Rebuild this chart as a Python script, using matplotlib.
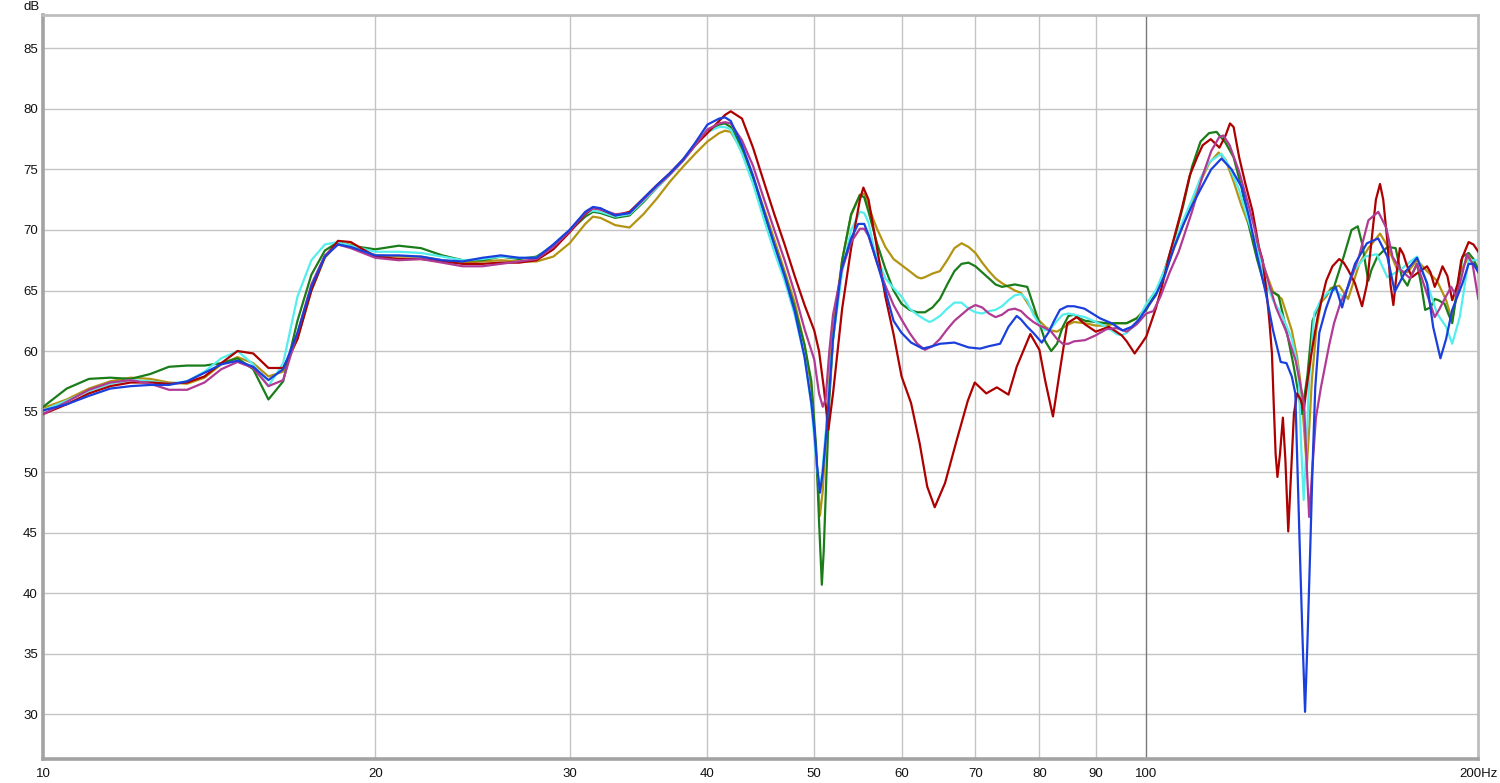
# Frequency response overlay, 6 measurements, 10-200 Hz (log axis)
import matplotlib
matplotlib.use("Agg")
import matplotlib.pyplot as plt

plt.rcParams['font.family'] = ['Liberation Sans', 'DejaVu Sans']

# ==== Data (Hz, dB) ====
# shared low-frequency grid, 10 .. 49 Hz
F_LOW = [10, 10.5, 11, 11.5, 12, 12.5, 13, 13.5, 14, 14.5, 15, 15.5, 16, 16.5, 17, 17.5, 18, 18.5, 19,
         20,
         21, 22, 23, 24, 25, 26, 27, 28, 29, 30, 31,
         31.5,
         32, 33, 34, 35, 36, 37, 38, 39, 40, 41,
         41.5,
         42, 43, 44, 45, 46, 47, 48, 49]

green_low = [55.4, 56.9, 57.7, 57.8, 57.7, 58.1, 58.7, 58.8, 58.8, 59.0, 59.4, 58.5, 56.0, 57.5, 62.5, 66.3, 68.3, 69.0, 68.7,
             68.4,
             68.7, 68.5, 67.9, 67.5, 67.5, 67.8, 67.6, 67.8, 68.7, 69.9, 71.1,
             71.5,
             71.4, 71.0, 71.2, 72.3, 73.5, 74.6, 75.7, 77.0, 78.2, 78.7,
             78.8,
             78.5, 76.8, 74.3, 71.4, 68.8, 66.3, 63.6, 60.5]
green_f = [49.7, 50.2, 50.5, 50.8, 51.0, 51.3, 51.6, 52, 53, 54, 55, 55.5,
           56, 57, 58, 59, 60, 61, 62, 63, 64, 65, 66, 67, 68, 69, 70, 71, 72, 73, 74, 75, 76, 77, 78, 79, 80,
           81, 82, 83, 84, 85, 86, 87, 88, 90, 92, 94, 96, 98, 100,
           102, 104, 106, 108, 110, 112, 114, 115.8, 118, 120, 122, 124, 126, 128, 130, 131.8, 134, 136,
           138.4, 140, 141.5, 144, 148, 151, 153.5, 155.5, 157, 158.2, 159, 160, 162, 165.5, 168.3, 170.5,
           172.5, 174, 176, 177.5, 179, 181, 182.6, 184, 186.4, 188, 189.4, 191, 193.5, 196, 198, 200]
green_db = [57.5, 52.0, 46.0, 40.7, 43.5, 50.0, 56.0, 61.0, 67.5, 71.3, 72.9, 72.7,
            71.5, 68.9, 66.8, 65.0, 63.9, 63.4, 63.2, 63.2, 63.6, 64.3, 65.5, 66.6, 67.2, 67.3, 67.0, 66.5, 66.0, 65.5, 65.3, 65.4, 65.5, 65.4, 65.3, 63.8, 62.3,
            60.8, 60.0, 60.6, 62.0, 62.9, 63.0, 62.7, 62.5, 62.4, 62.3, 62.3, 62.3, 62.7, 63.4,
            64.8, 66.8, 69.2, 72.0, 75.2, 77.3, 78.0, 78.1, 77.2, 76.0, 73.5, 70.2, 67.6, 65.4, 64.9, 64.6, 61.7, 58.8,
            54.8, 58.0, 62.5, 64.2, 65.3, 67.8, 70.0, 70.3, 68.8, 66.9, 65.8, 66.7, 67.8, 68.6, 68.5, 66.1,
            65.4, 66.3, 67.2, 65.5, 63.4, 63.6, 64.3, 64.2, 63.9, 63.0, 62.3, 64.5, 67.8, 68.1, 67.6, 66.7]

red_low = [54.8, 55.6, 56.5, 57.1, 57.4, 57.4, 57.3, 57.4, 57.9, 59.0, 60.0, 59.8, 58.6, 58.6, 61.0, 65.0, 67.8, 69.1, 69.0,
           67.8,
           67.6, 67.6, 67.4, 67.2, 67.2, 67.3, 67.3, 67.5, 68.4, 69.8, 71.3,
           71.8,
           71.7, 71.2, 71.5, 72.6, 73.7, 74.7, 75.8, 77.0, 78.0, 79.0,
           79.5,
           79.8, 79.2, 76.8, 74.0, 71.3, 68.8, 66.2, 63.8]
red_f = [50, 50.5, 51, 51.5, 52, 52.5, 53, 54, 55, 55.4, 56, 57, 58, 59, 60, 61.2, 62.3, 63.3, 64.3, 65.7,
         67.3, 68.9, 69.9, 71.6, 73.2, 75.0, 76.3, 78.5, 80, 81, 82.3, 83.6, 84.8, 86.5, 88, 90, 92.5, 95,
         96, 97.6, 99, 100, 102, 103.3, 105, 107.6, 109.5, 111.2, 112.5, 114.4, 116.5, 118, 119.1, 120,
         121.4, 123, 124.8, 126.5, 127.5, 128.5, 129.3, 130, 130.5, 131, 131.5, 132.2, 133, 133.7, 134.5,
         135.3, 136.1, 137, 138, 138.9, 140, 141, 142, 143, 144, 145.6, 147.5, 149.6, 151, 152.4, 154.6,
         156.9, 158.5, 160, 161.5, 162.9, 164, 165.4, 166.5, 167.5, 168.7, 169.8, 171, 172.1, 174.1,
         176.5, 179.7, 181, 182.6, 184, 185.6, 187.5, 189.4, 191.5, 193, 196, 198, 200]
red_db = [61.7, 60.0, 57.0, 53.5, 56.5, 60.0, 63.5, 68.5, 72.5, 73.5, 72.5, 68.5, 64.5, 61.4, 57.9, 55.7, 52.4, 48.8, 47.1, 49.1,
          52.6, 55.9, 57.4, 56.5, 57.0, 56.4, 58.7, 61.4, 60.1, 57.5, 54.6, 58.7, 62.3, 62.8, 62.2, 61.6, 62.0, 61.3,
          60.8, 59.8, 60.6, 61.2, 63.5, 65.3, 68.0, 71.6, 74.5, 76.0, 77.0, 77.5, 76.8, 77.8, 78.8, 78.5,
          76.0, 73.8, 71.6, 68.6, 67.5, 65.0, 62.5, 59.8, 55.5, 51.5, 49.6, 51.5, 54.5, 51.0, 45.1,
          50.0, 54.8, 56.5, 56.0, 55.1, 57.5, 59.5, 61.2, 62.8, 64.0, 65.8, 67.0, 67.6, 67.3, 66.7, 65.6,
          63.7, 65.5, 69.0, 72.5, 73.8, 72.5, 69.1, 65.5, 63.8, 66.5, 68.5, 68.0, 67.2, 66.1,
          66.5, 67.0, 66.5, 65.3, 66.0, 67.0, 66.2, 64.2, 65.5, 67.5, 69.0, 68.8, 68.2]

magenta_low = [54.8, 55.8, 56.8, 57.4, 57.6, 57.3, 56.8, 56.8, 57.4, 58.5, 59.1, 58.6, 57.1, 57.6, 61.5, 65.5, 67.9, 68.8, 68.5,
               67.7,
               67.5, 67.6, 67.3, 67.0, 67.0, 67.2, 67.4, 67.6, 68.6, 69.9, 71.4,
               71.8,
               71.7, 71.3, 71.4, 72.5, 73.6, 74.6, 75.7, 77.0, 78.3, 78.8,
               78.9,
               78.8, 77.4, 75.3, 72.6, 70.0, 67.5, 64.8, 61.8]
magenta_f = [50, 50.5, 50.9, 51.2, 51.6, 52, 53, 54, 55, 55.5, 56, 57, 58, 59, 60, 61, 62, 63, 64, 65, 66,
             67, 68, 69, 70, 71, 72, 73, 74, 75, 76, 77, 78, 79, 80, 81, 82, 83, 84, 85, 86, 88, 90, 92, 94,
             96, 98, 100, 101.5, 103, 105, 107, 110, 112.4, 114.5, 116.5, 117.5, 119, 121.4, 124, 125.3,
             126.5, 128.4, 131.1, 133.8, 136.6, 139, 139.8, 140.5, 141.5, 142.5, 144, 145, 146.5, 148, 150,
             152.4, 155.9, 159, 162.3, 165, 167.2, 170, 173.5, 176, 179.7, 182.6, 184.5, 186.9, 189, 191,
             193, 195.3, 197.6, 200]
magenta_db = [59.3, 56.5, 55.4, 56.0, 60.0, 63.0, 66.8, 69.0, 70.1, 70.1, 69.5, 67.3, 65.4, 63.8, 62.6, 61.5, 60.6, 60.1, 60.4, 61.0, 61.8,
              62.5, 63.0, 63.5, 63.8, 63.6, 63.1, 62.8, 63.0, 63.4, 63.5, 63.3, 62.8, 62.4, 62.1, 61.9, 61.6, 61.0, 60.6, 60.6, 60.8, 60.9, 61.3, 61.8, 61.9,
              61.6, 62.2, 63.1, 63.3, 64.5, 66.5, 68.2, 71.5, 74.4, 76.5, 77.7, 77.8, 77.0, 74.8, 71.8, 70.2,
              68.5, 66.4, 63.6, 61.7, 59.2, 55.7, 50.5, 46.3, 50.5, 54.5, 57.0, 58.4, 60.5, 62.3, 64.0,
              65.3, 67.8, 70.8, 71.5, 70.2, 67.8, 66.7, 66.0, 67.2, 64.7, 62.8, 63.5, 64.5, 65.3, 64.5,
              66.0, 68.0, 67.2, 64.3]

cyan_low = [55.1, 55.9, 56.7, 57.3, 57.6, 57.5, 57.3, 57.5, 58.3, 59.4, 60.0, 58.9, 57.1, 59.0, 64.5, 67.5, 68.8, 69.0, 68.7,
            68.2,
            68.2, 68.1, 67.8, 67.5, 67.6, 67.8, 67.7, 67.7, 68.8, 70.0, 71.3,
            71.6,
            71.5, 71.1, 71.3, 72.4, 73.5, 74.6, 75.7, 77.0, 78.1, 78.5,
            78.5,
            78.3, 76.3, 73.8, 70.9, 68.2, 65.8, 63.0, 59.5]
cyan_f = [49.7, 50.2, 50.6, 50.9, 51.3, 52, 53, 54, 55, 55.5, 56, 56.6, 57, 58, 59, 60, 61, 62, 63, 63.6, 64,
          65, 66, 67, 68, 69, 70, 71, 72, 73, 74, 75, 76, 77, 78, 79, 80, 81, 82, 83, 84, 85, 86, 88, 90,
          92, 94, 95, 96, 98, 100, 102, 104, 106, 108, 110, 112, 114, 117, 119, 121.4, 124, 126, 128,
          130.3, 132.7, 135.5, 137, 137.5, 138.2, 138.9, 139.7, 140.5, 142, 144, 146, 148, 151, 154.5,
          158, 161.8, 165.4, 170, 173, 176, 179.7, 183.5, 187, 189.4, 192.4, 196, 200]
cyan_db = [55.5, 51.0, 48.5, 50.5, 54.0, 61.0, 66.5, 70.0, 71.5, 71.4, 70.6, 68.6, 67.8, 66.0, 65.2, 64.5, 63.5, 63.0, 62.6, 62.4, 62.5,
           62.9, 63.5, 64.0, 64.0, 63.5, 63.2, 63.1, 63.3, 63.4, 63.7, 64.2, 64.6, 64.7, 64.2, 63.0, 62.2, 61.7, 61.9, 62.5, 63.0, 63.1, 63.0, 62.8, 62.4,
           62.0, 61.4, 61.3, 61.5, 62.3, 63.9, 65.0, 66.8, 68.8, 70.8, 72.5, 74.3, 75.6, 76.3, 75.2, 73.3, 70.5, 68.5, 66.0,
           64.2, 63.0, 61.0, 59.0, 57.6, 52.0, 47.7, 52.0, 57.6, 63.1, 64.2, 64.8, 65.1, 64.4, 66.7,
           67.8, 68.0, 66.1, 66.7, 67.3, 67.8, 65.6, 63.1, 62.0, 60.6, 62.8, 67.5, 67.5]

olive_low = [55.3, 56.0, 56.9, 57.5, 57.8, 57.7, 57.4, 57.3, 57.8, 58.9, 59.5, 59.0, 57.9, 58.3, 61.0, 65.0, 67.7, 68.9, 68.8,
             67.9,
             67.8, 67.8, 67.5, 67.3, 67.4, 67.5, 67.4, 67.4, 67.8, 68.9, 70.5,
             71.1,
             71.0, 70.4, 70.2, 71.3, 72.6, 74.0, 75.2, 76.3, 77.3, 78.0,
             78.2,
             78.1, 76.6, 74.4, 71.8, 69.2, 66.6, 64.0, 60.5]
olive_f = [49.7, 50.2, 50.6, 50.9, 51.3, 51.7, 52, 53, 54, 55, 55.5, 56, 56.6, 57, 58, 59, 60, 61, 62, 62.5,
           63, 64, 65, 66, 67, 68, 69, 70, 71, 72, 73, 74, 75, 76, 77, 78, 79, 80, 81, 82, 83, 84, 85, 86,
           88, 90, 92, 94, 96, 98, 100, 102, 104, 106, 108, 110, 112, 114, 116.3, 118, 120, 122, 124,
           126.1, 128, 130.3, 132.7, 135.5, 137, 137.9, 138.9, 139.8, 140.6, 141.3, 142.6, 144, 145.6,
           147, 149.6, 152.4, 156, 159, 162.9, 165.4, 168.9, 172.5, 176, 179.7, 183.5, 187, 189.4, 192.4,
           196, 200]
olive_db = [57.0, 51.5, 46.4, 48.5, 54.0, 59.0, 62.0, 67.5, 71.2, 72.9, 73.0, 72.0, 70.8, 70.1, 68.6, 67.6, 67.1, 66.6, 66.1, 66.0,
            66.1, 66.4, 66.6, 67.5, 68.5, 68.9, 68.6, 68.1, 67.3, 66.6, 66.0, 65.6, 65.3, 65.0, 64.8, 64.0, 63.2, 62.5, 62.0, 61.7, 61.6, 61.9, 62.2, 62.4,
            62.3, 62.1, 62.1, 62.3, 62.3, 62.7, 63.6, 64.7, 66.5, 68.5, 70.4, 72.3, 74.0, 75.5, 76.4, 75.8, 74.0, 72.0, 70.3,
            68.8, 66.8, 64.9, 64.3, 61.7, 59.5, 57.6, 54.0, 50.4, 54.0, 57.6, 61.7, 64.0, 64.5,
            65.2, 65.4, 64.3, 67.2, 68.5, 69.7, 68.7, 66.7, 66.5, 67.5, 66.6, 65.8, 64.2, 62.5, 66.4,
            67.8, 66.7]

blue_low = [55.1, 55.6, 56.3, 56.9, 57.1, 57.2, 57.2, 57.5, 58.2, 58.9, 59.2, 58.7, 57.6, 58.5, 61.5, 65.3, 67.8, 68.8, 68.6,
            67.9,
            67.9, 67.8, 67.5, 67.4, 67.7, 67.9, 67.7, 67.7, 68.8, 70.0, 71.5,
            71.9,
            71.8, 71.2, 71.4, 72.6, 73.7, 74.7, 75.8, 77.2, 78.7, 79.2,
            79.3,
            79.0, 77.0, 74.5, 71.6, 68.8, 66.2, 63.3, 59.5]
blue_f = [49.7, 50.0, 50.3, 50.6, 50.9, 51.3, 52, 52.9, 54, 54.8, 55.5, 56, 57, 58, 59, 60, 61.2, 62.7, 64, 65,
          67, 68, 69, 70.7, 72, 73.7, 75, 76.3, 77, 78, 79, 80.4, 81.5, 82.5, 83.5, 84.8, 86, 87.9, 90.8, 93,
          95.2, 97, 98.5, 100, 102, 104, 106, 108, 110, 112.2, 114.5, 117, 119.5, 122.1, 124, 126.1, 128.4,
          130.3, 132.4, 134, 135.5, 136.5, 137.2, 137.9, 138.6, 139.3, 140.0, 140.8, 141.5, 142.3, 143.5,
          145.5, 147.5, 148.5, 150.5, 152.5, 154.6, 158.5, 162.3, 165.4, 168, 171.6, 176, 179.7, 182,
          184.8, 187, 189.4, 193.5, 196, 198, 200]
blue_db = [55.7, 53.5, 50.5, 48.3, 50.0, 53.5, 61.0, 66.7, 69.3, 70.5, 70.5, 69.6, 67.3, 65.0, 62.5, 61.5, 60.7, 60.2, 60.4, 60.6,
           60.7, 60.5, 60.3, 60.2, 60.4, 60.6, 62.0, 62.9, 62.6, 62.0, 61.5, 60.7, 61.5, 62.5, 63.4, 63.7, 63.7, 63.5, 62.7, 62.3,
           61.7, 62.0, 62.6, 63.5, 64.6, 66.3, 68.6, 70.4, 72.0, 73.5, 75.0, 75.9, 75.0, 73.5, 71.0, 67.8, 64.7,
           61.7, 59.1, 59.0, 57.9, 56.5, 49.5, 42.5, 36.0, 30.2, 36.0, 43.5, 50.5, 57.0, 61.5,
           63.5, 65.0, 65.3, 63.6, 65.5, 67.2, 68.9, 69.3, 67.8, 64.9, 66.5, 67.7, 65.6, 62.0,
           59.4, 61.0, 63.4, 65.6, 67.2, 67.2, 66.5]

# drawing order: first = bottom
SERIES = [
    ("olive", olive_low, olive_f, olive_db, "#b39412"),
    ("green", green_low, green_f, green_db, "#1a7d1a"),
    ("cyan", cyan_low, cyan_f, cyan_db, "#55eeee"),
    ("red", red_low, red_f, red_db, "#ad0000"),
    ("magenta", magenta_low, magenta_f, magenta_db, "#b03a94"),
    ("blue", blue_low, blue_f, blue_db, "#1a3fdc"),
]

X_TICKS = [10, 20, 30, 40, 50, 60, 70, 80, 90, 100, 200]
X_LABELS = ["10", "20", "30", "40", "50", "60", "70", "80", "90", "100", "200Hz"]
Y_TICKS = [30, 35, 40, 45, 50, 55, 60, 65, 70, 75, 80, 85]

# ==== Figure ====
W, H = 1500, 783
fig = plt.figure(figsize=(W / 100, H / 100), dpi=100)
x0, x1, y0, y1 = 43.3, 1478.3, 15.3, 759.3
ax = fig.add_axes([x0 / W, 1 - y1 / H, (x1 - x0) / W, (y1 - y0) / H])

for yv in Y_TICKS:
    ax.axhline(yv, color="#c4c4c4", lw=1.0, zorder=1)
for xv in X_TICKS[1:-1]:
    c = "#7a7a7a" if xv == 100 else "#c4c4c4"
    ax.axvline(xv, color=c, lw=1.0, zorder=1)

for name, low, f_hi, db_hi, col in SERIES:
    f = F_LOW + f_hi
    db = low + db_hi
    assert len(f) == len(db), name
    ax.plot(f, db, color=col, lw=1.6, zorder=3, solid_joinstyle="round")

ax.set_xscale("log")
ax.set_xlim(10, 200)
ax.set_ylim(26.28, 87.73)
ax.set_xticks(X_TICKS)
ax.set_xticklabels(X_LABELS)
ax.minorticks_off()
ax.set_yticks(Y_TICKS)
ax.set_yticklabels([str(v) for v in Y_TICKS])
ax.tick_params(length=0, labelsize=9.5, colors="#111111")
ax.tick_params(axis="x", pad=6)
ax.tick_params(axis="y", pad=4)

for s in ("left", "bottom"):
    ax.spines[s].set_color("#a3a3a3")
    ax.spines[s].set_linewidth(2.6)
for s in ("top", "right"):
    ax.spines[s].set_color("#bdbdbd")
    ax.spines[s].set_linewidth(2.0)

fig.text(31.5 / W, 1 - 7 / H, "dB", ha="center", va="center", fontsize=9.5, color="#111111")

fig.savefig("out.png", dpi=100, facecolor="white")
